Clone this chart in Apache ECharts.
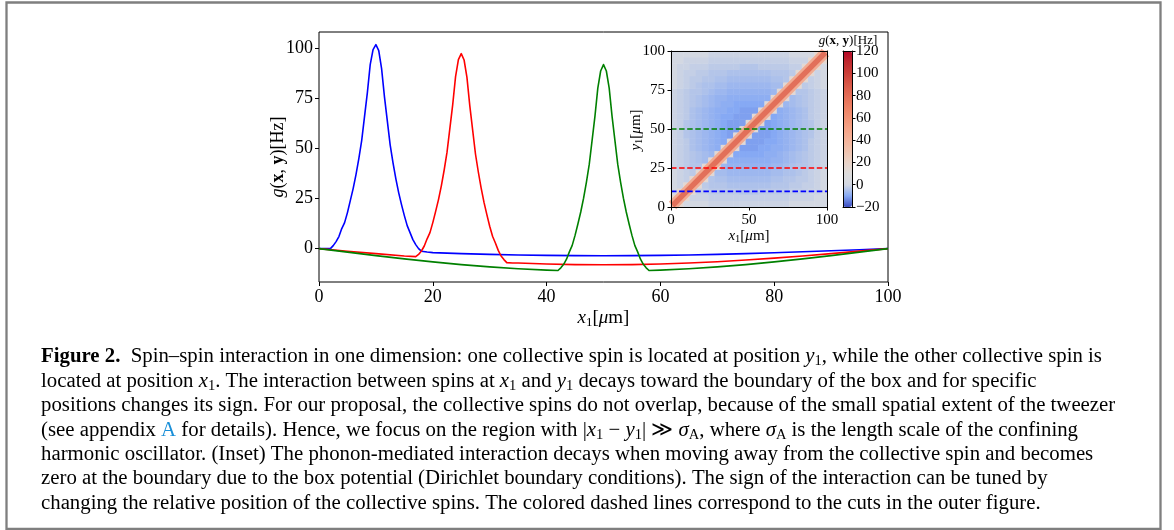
<!DOCTYPE html>
<html>
<head>
<meta charset="utf-8">
<script src="https://cdn.jsdelivr.net/npm/echarts@6/dist/echarts.min.js"></script>
<style>
html, body { margin: 0; padding: 0; background: #fff; }
#fig { width: 1174px; height: 530px; }
</style>
</head>
<body>
<div id="fig"></div>
<script>
// ---- data ----
var mainXTicks = [0, 20, 40, 60, 80, 100];
var mainYTicks = [0, 25, 50, 75, 100];
var insetXTicks = [0, 50, 100];
var insetYTicks = [0, 25, 50, 75, 100];
var barTicks = [-20, 0, 20, 40, 60, 80, 100, 120];

// cut at y1 = 10 (blue)
var blueX = [0, 1, 2, 2.5, 3, 3.5, 4, 4.5, 5, 5.5, 6, 6.5, 7, 7.5, 8, 8.5, 9, 9.5, 10, 10.5,
  11, 11.5, 12, 12.5, 13, 13.5, 14, 14.5, 15, 15.5, 16, 16.5, 17, 17.5, 18, 19, 20, 25, 30, 35,
  40, 45, 50, 55, 60, 65, 70, 75, 80, 85, 90, 95, 100];
var blueY = [0, 0, 0, 1.5, 3.5, 6, 10, 13, 18, 24, 30, 37, 45, 54, 66, 78, 92, 99.5, 102, 99,
  90, 76, 64, 52, 43, 35, 28, 22, 16.5, 11.5, 8, 4.5, 2, 0, -1.3, -1.7, -2.0, -2.5, -2.9, -3.2,
  -3.4, -3.5, -3.55, -3.5, -3.4, -3.2, -2.9, -2.5, -2.1, -1.6, -1.1, -0.55, 0];

// cut at y1 = 25 (red)
var redX = [0, 5, 10, 15, 17, 17.5, 18, 18.5, 19, 19.5, 20, 20.5, 21, 21.5, 22, 22.5, 23, 23.5, 24, 24.5,
  25, 25.5, 26, 26.5, 27, 27.5, 28, 28.5, 29, 29.5, 30, 30.5, 31, 31.5, 32, 32.5, 33, 34, 35, 40,
  45, 50, 55, 60, 65, 70, 75, 80, 85, 90, 95, 100];
var redY = [0, -1.3, -2.5, -3.7, -4.0, -2.9, -1.2, 1.3, 4.9, 8.0, 13.0, 18.6, 24.5, 31.4, 39.3, 48.2, 60.1, 72, 86, 94.5,
  97.5, 94.3, 85.6, 71.5, 59.4, 47.3, 38.3, 30.2, 23.1, 17.0, 11.2, 6.2, 2.8, -0.9, -3.7, -5.5, -7.0, -7.2, -7.2, -7.7,
  -8.0, -8.1, -8.0, -7.7, -7.2, -6.55, -5.7, -4.75, -3.7, -2.5, -1.25, 0];

// cut at y1 = 50 (green)
var greenX = [0, 5, 10, 15, 20, 25, 30, 35, 40, 42, 42.5, 43, 43.5, 44, 44.5, 45, 45.5, 46, 46.5, 47,
  47.5, 48, 48.5, 49, 49.5, 50, 50.5, 51, 51.5, 52, 52.5, 53, 53.5, 54, 54.5, 55, 55.5, 56, 56.5, 57,
  57.5, 58, 60, 65, 70, 75, 80, 85, 90, 95, 100];
var greenY = [0, -1.77, -3.5, -5.13, -6.64, -8.0, -9.14, -10.07, -10.75, -10.95, -9.6, -7.85, -5.3, -1.65, 1.6, 6.6, 12.3, 18.3, 25.2, 33.2,
  42.2, 54.2, 66.2, 80.2, 88.8, 92, 88.8, 80.2, 66.2, 54.2, 42.2, 33.2, 25.2, 18.3, 12.3, 6.6, 1.6, -1.65, -5.3, -7.85,
  -9.6, -10.95, -10.75, -10.07, -9.14, -8.0, -6.64, -5.13, -3.5, -1.77, 0];

var cutPositions = [10, 25, 50];

// inset map: cell centres (um) and g(x1, y1) in Hz, rows from y1 = 2 (bottom) to y1 = 98 (top)
var insetCenters = [2, 6, 10, 14, 18, 22, 26, 30, 34, 38, 42, 46, 50, 54, 58, 62, 66, 70, 74, 78, 82, 86, 90, 94, 98];
var gInset = [
  [45, 16, 0, 0, 0, 0, -1, -1, -1, -1, -1, -1, -1, -1, -1, -1, -1, -1, -1, 0, 0, 0, 0, 0, 0],
  [16, 95, 16, -1, -1, -1, -2, -2, -2, -2, -2, -2, -2, -2, -2, -2, -2, -2, -2, -1, -1, -1, -1, 0, 0],
  [0, 16, 100, 15, -2, -2, -3, -3, -3, -3, -3, -4, -4, -4, -3, -3, -3, -3, -3, -2, -2, -2, -1, -1, 0],
  [0, -1, 15, 99, 15, -3, -4, -4, -4, -5, -5, -5, -5, -5, -5, -5, -4, -4, -4, -3, -3, -2, -2, -1, 0],
  [0, -1, -2, 15, 98, 15, -4, -5, -5, -6, -6, -6, -6, -6, -6, -6, -5, -5, -4, -4, -3, -3, -2, -1, 0],
  [0, -1, -2, -3, 15, 97, 14, -6, -6, -7, -7, -7, -7, -7, -7, -7, -6, -6, -5, -5, -4, -3, -2, -1, 0],
  [-1, -2, -3, -4, -4, 14, 96, 14, -7, -8, -8, -8, -8, -8, -8, -8, -7, -7, -6, -5, -4, -4, -3, -2, -1],
  [-1, -2, -3, -4, -5, -6, 14, 95, 14, -9, -9, -9, -9, -9, -9, -9, -8, -8, -7, -6, -5, -4, -3, -2, -1],
  [-1, -2, -3, -4, -5, -6, -7, 14, 94, 13, -10, -10, -10, -10, -10, -9, -9, -8, -7, -6, -5, -4, -3, -2, -1],
  [-1, -2, -3, -5, -6, -7, -8, -9, 13, 93, 13, -11, -11, -11, -10, -10, -9, -9, -8, -7, -6, -5, -3, -2, -1],
  [-1, -2, -3, -5, -6, -7, -8, -9, -10, 13, 92, 13, -11, -11, -11, -10, -10, -9, -8, -7, -6, -5, -3, -2, -1],
  [-1, -2, -4, -5, -6, -7, -8, -9, -10, -11, 13, 91, 12, -11, -11, -11, -10, -9, -8, -7, -6, -5, -4, -2, -1],
  [-1, -2, -4, -5, -6, -7, -8, -9, -10, -11, -11, 12, 91, 12, -11, -11, -10, -9, -8, -7, -6, -5, -4, -2, -1],
  [-1, -2, -4, -5, -6, -7, -8, -9, -10, -11, -11, -11, 12, 91, 13, -11, -10, -9, -8, -7, -6, -5, -4, -2, -1],
  [-1, -2, -3, -5, -6, -7, -8, -9, -10, -10, -11, -11, -11, 13, 92, 13, -10, -9, -8, -7, -6, -5, -3, -2, -1],
  [-1, -2, -3, -5, -6, -7, -8, -9, -9, -10, -10, -11, -11, -11, 13, 93, 13, -9, -8, -7, -6, -5, -3, -2, -1],
  [-1, -2, -3, -4, -5, -6, -7, -8, -9, -9, -10, -10, -10, -10, -10, 13, 94, 14, -7, -6, -5, -4, -3, -2, -1],
  [-1, -2, -3, -4, -5, -6, -7, -8, -8, -9, -9, -9, -9, -9, -9, -9, 14, 95, 14, -6, -5, -4, -3, -2, -1],
  [-1, -2, -3, -4, -4, -5, -6, -7, -7, -8, -8, -8, -8, -8, -8, -8, -7, 14, 96, 14, -4, -4, -3, -2, -1],
  [0, -1, -2, -3, -4, -5, -5, -6, -6, -7, -7, -7, -7, -7, -7, -7, -6, -6, 14, 97, 15, -3, -2, -1, 0],
  [0, -1, -2, -3, -3, -4, -4, -5, -5, -6, -6, -6, -6, -6, -6, -6, -5, -5, -4, 15, 98, 15, -2, -1, 0],
  [0, -1, -2, -2, -3, -3, -4, -4, -4, -5, -5, -5, -5, -5, -5, -5, -4, -4, -4, -3, 15, 99, 15, -1, 0],
  [0, -1, -1, -2, -2, -2, -3, -3, -3, -3, -3, -4, -4, -4, -3, -3, -3, -3, -3, -2, -2, 15, 100, 16, 0],
  [0, 0, -1, -1, -1, -1, -2, -2, -2, -2, -2, -2, -2, -2, -2, -2, -2, -2, -2, -1, -1, -1, 16, 95, 16],
  [0, 0, 0, 0, 0, 0, -1, -1, -1, -1, -1, -1, -1, -1, -1, -1, -1, -1, -1, 0, 0, 0, 0, 16, 45]
];
// ridge of the map (where g peaks, x1 = y1)
var ridgeX = [1, 10, 25, 50, 75, 90, 99];
var ridgeY = [1, 10, 25, 50, 75, 90, 99];

var captionLines = [
  '{b|Figure 2.}{n|  Spin–spin interaction in one dimension: one collective spin is located at position }{i|y}{s|1}{n|, while the other collective spin is}',
  '{n|located at position }{i|x}{s|1}{n|. The interaction between spins at }{i|x}{s|1}{n| and }{i|y}{s|1}{n| decays toward the boundary of the box and for specific}',
  '{n|positions changes its sign. For our proposal, the collective spins do not overlap, because of the small spatial extent of the tweezer}',
  '{n|(see appendix }{l|A}{n| for details). Hence, we focus on the region with |}{i|x}{s|1}{n| − }{i|y}{s|1}{n|| ≫ }{i|σ}{s|A}{n|, where }{i|σ}{s|A}{n| is the length scale of the confining}',
  '{n|harmonic oscillator. (Inset) The phonon-mediated interaction decays when moving away from the collective spin and becomes}',
  '{n|zero at the boundary due to the box potential (Dirichlet boundary conditions). The sign of the interaction can be tuned by}',
  '{n|changing the relative position of the collective spins. The colored dashed lines correspond to the cuts in the outer figure.}'
];

// ---- chart ----
var SERIF = "'Liberation Serif', 'DejaVu Serif', serif";

function zip(xs, ys) {
  var out = [];
  for (var i = 0; i < xs.length; i++) out.push([xs[i], ys[i]]);
  return out;
}

function mathRich(size, sub, lh) {
  lh = lh || Math.round(size * 1.2);
  return {
    n: { fontFamily: SERIF, fontSize: size, lineHeight: lh, fill: '#000' },
    i: { fontFamily: SERIF, fontSize: size, fontStyle: 'italic', lineHeight: lh, fill: '#000' },
    b: { fontFamily: SERIF, fontSize: size, fontWeight: 'bold', lineHeight: lh, fill: '#000' },
    s: { fontFamily: SERIF, fontSize: sub, lineHeight: Math.round(lh - 0.58 * size), verticalAlign: 'bottom', fill: '#000' },
    l: { fontFamily: SERIF, fontSize: size, lineHeight: lh, fill: '#1a8fd8' }
  };
}

function label(x, y, text, size, sub, rot) {
  return {
    type: 'text', x: x, y: y, rotation: rot || 0, z: 100,
    style: { text: text, rich: mathRich(size, sub), align: 'center', verticalAlign: 'middle' }
  };
}

var heatData = [];
gInset.forEach(function (row, r) {
  row.forEach(function (v, c) { heatData.push([c, r, v]); });
});

var cutColors = ['#0000ff', '#ff0000', '#008000'];
var cutSeries = cutPositions.map(function (y, k) {
  return {
    type: 'line', xAxisIndex: 1, yAxisIndex: 1, z: 5, symbol: 'none', silent: true,
    data: [[insetXTicks[0], y], [insetXTicks[insetXTicks.length - 1], y]],
    lineStyle: { color: cutColors[k], width: 1.6, type: [5.5, 2.6] }
  };
});

function ridge(width, color) {
  return {
    type: 'line', xAxisIndex: 1, yAxisIndex: 1, z: 2, symbol: 'none', silent: true,
    data: zip(ridgeX, ridgeY), lineStyle: { color: color, width: width, cap: 'butt' }
  };
}

function curve(xs, ys, color) {
  return {
    type: 'line', xAxisIndex: 0, yAxisIndex: 0, symbol: 'none', smooth: false, z: 3,
    data: zip(xs, ys), lineStyle: { color: color, width: 1.6, join: 'round' }
  };
}

var tickFont = { fontFamily: SERIF, color: '#000' };
function numFmt(v) { return String(v).replace('-', '\u2212'); }

var captionGraphics = captionLines.map(function (t, k) {
  return {
    type: 'text', x: 41, y: 357 + 24.4 * k, z: 100,
    style: { text: t, rich: mathRich(20.8, 14.5, 24), align: 'left', verticalAlign: 'middle' }
  };
});

var option = {
  animation: false,
  backgroundColor: '#fff',
  grid: [
    { left: 319, top: 32, width: 569, height: 250, show: true, borderColor: '#000', borderWidth: 1, backgroundColor: 'transparent' },
    { left: 671, top: 51, width: 156, height: 156 },
    { left: 843, top: 51, width: 9, height: 156 }
  ],
  xAxis: [
    { type: 'value', gridIndex: 0, min: 0, max: 100, interval: 20,
      axisLine: { show: false, onZero: false }, splitLine: { show: false },
      axisTick: { inside: false, length: 4, lineStyle: { color: '#000' } },
      axisLabel: Object.assign({ fontSize: 18, margin: 6 }, tickFont) },
    { type: 'value', gridIndex: 1, min: 0, max: 100, interval: 50, position: 'bottom', z: 10,
      axisLine: { show: true, onZero: false, lineStyle: { color: '#000', width: 1 } }, splitLine: { show: false },
      axisTick: { inside: false, length: 3.5, lineStyle: { color: '#000' } },
      axisLabel: Object.assign({ fontSize: 15, margin: 6 }, tickFont) },
    { type: 'category', gridIndex: 1, position: 'top', data: insetCenters, z: 10,
      axisLine: { show: true, onZero: false, lineStyle: { color: '#000', width: 1 } },
      axisTick: { show: false }, axisLabel: { show: false }, splitLine: { show: false } },
    { type: 'value', gridIndex: 2, min: 0, max: 1, position: 'bottom', z: 10,
      axisLine: { show: true, onZero: false, lineStyle: { color: '#000', width: 1 } },
      axisTick: { show: false }, axisLabel: { show: false }, splitLine: { show: false } },
    { type: 'value', gridIndex: 2, min: 0, max: 1, position: 'top', z: 10,
      axisLine: { show: true, onZero: false, lineStyle: { color: '#000', width: 1 } },
      axisTick: { show: false }, axisLabel: { show: false }, splitLine: { show: false } }
  ],
  yAxis: [
    { type: 'value', gridIndex: 0, min: -16.7, max: 108.3,
      axisLine: { show: false, onZero: false }, splitLine: { show: false },
      axisTick: { inside: false, length: 4, customValues: mainYTicks, lineStyle: { color: '#000' } },
      axisLabel: Object.assign({ fontSize: 18, margin: 6, customValues: mainYTicks }, tickFont) },
    { type: 'value', gridIndex: 1, min: 0, max: 100, interval: 25, position: 'left', z: 10,
      axisLine: { show: true, onZero: false, lineStyle: { color: '#000', width: 1 } }, splitLine: { show: false },
      axisTick: { inside: false, length: 3.5, lineStyle: { color: '#000' } },
      axisLabel: Object.assign({ fontSize: 15, margin: 6 }, tickFont) },
    { type: 'category', gridIndex: 1, position: 'right', data: insetCenters, z: 10,
      axisLine: { show: true, onZero: false, lineStyle: { color: '#000', width: 1 } },
      axisTick: { show: false }, axisLabel: { show: false }, splitLine: { show: false } },
    { type: 'value', gridIndex: 2, min: barTicks[0], max: barTicks[barTicks.length - 1], interval: 20, position: 'right', z: 10,
      axisLine: { show: true, onZero: false, lineStyle: { color: '#000', width: 1 } }, splitLine: { show: false },
      axisTick: { inside: false, length: 3.5, lineStyle: { color: '#000' } },
      axisLabel: Object.assign({ fontSize: 15, margin: 4, formatter: numFmt }, tickFont) },
    { type: 'value', gridIndex: 2, min: 0, max: 1, position: 'left', z: 10,
      axisLine: { show: true, onZero: false, lineStyle: { color: '#000', width: 1 } },
      axisTick: { show: false }, axisLabel: { show: false }, splitLine: { show: false } }
  ],
  visualMap: {
    type: 'continuous', seriesIndex: 3, min: -20, max: 120,
    orient: 'vertical', left: 843, top: 51, itemWidth: 9, itemHeight: 156,
    padding: 0, calculable: false, showLabel: false, text: null,
    inRange: { color: ['#3b4cc0', '#86a9f4', '#d3d8e2', '#dddcdc', '#e9d3c7', '#efc3af', '#f4b39a',
      '#f5a387', '#f29274', '#ec8063', '#e36c55', '#d85747', '#cb3e38', '#bf2a2f', '#b40426'] }
  },
  series: [
    curve(blueX, blueY, '#0000ff'),
    curve(redX, redY, '#ff0000'),
    curve(greenX, greenY, '#008000'),
    { type: 'heatmap', xAxisIndex: 2, yAxisIndex: 2, data: heatData, z: 1,
      itemStyle: { borderWidth: 0 }, emphasis: { disabled: true }, progressive: 0 },
    ridge(10.5, '#f2ab92'),
    ridge(5.5, '#e2705a')
  ].concat(cutSeries),
  graphic: [
    { type: 'rect', z: 100, shape: { x: 6.5, y: 2.5, width: 1154, height: 526.3 },
      style: { fill: 'none', stroke: '#7f7f7f', lineWidth: 2.3 } },
    label(278, 157, '{i|g}{n|(}{b|x}{n|, }{b|y}{n|)[Hz]}', 18, 12.5, Math.PI / 2),
    label(603.5, 318, '{i|x}{s|1}{n|[}{i|μ}{n|m]}', 19, 13, 0),
    label(749, 236, '{i|x}{s|1}{n|[}{i|μ}{n|m]}', 15, 10.5, 0),
    label(636, 130, '{i|y}{s|1}{n|[}{i|μ}{n|m]}', 15, 10.5, Math.PI / 2),
    label(848, 41, '{i|g}{n|(}{b|x}{n|, }{b|y}{n|)[Hz]}', 13, 9, 0)
  ].concat(captionGraphics)
};

var chart = echarts.init(document.getElementById('fig'), null, { renderer: 'canvas' });
chart.setOption(option);
</script>
</body>
</html>
